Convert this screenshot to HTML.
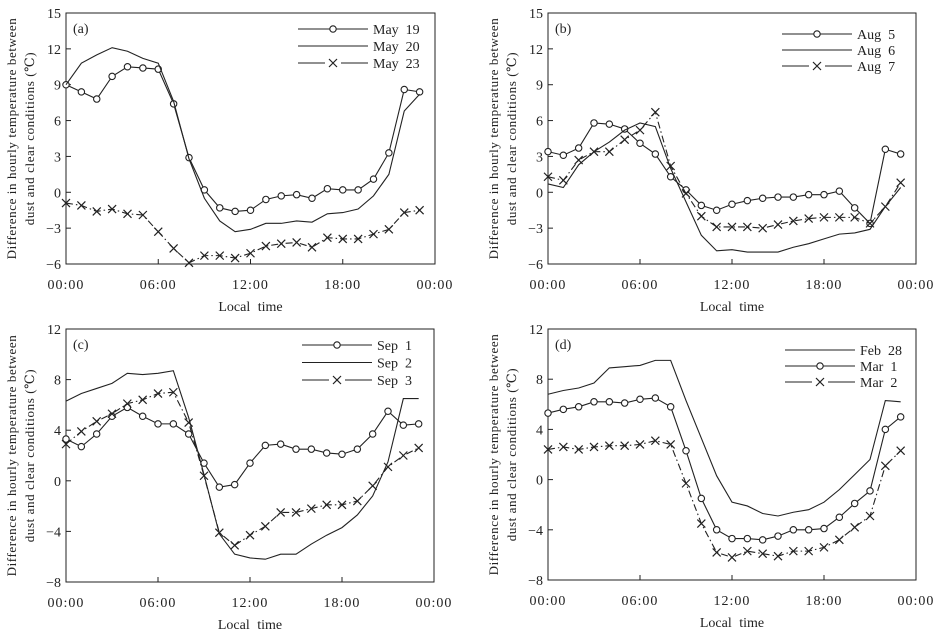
<!DOCTYPE html>
<html><head><meta charset="utf-8"><style>
body{margin:0;background:#fff;}
svg{display:block;font-family:"Liberation Serif","DejaVu Serif",serif;}
text{font-family:"Liberation Serif","DejaVu Serif",serif;}
</style></head><body>
<svg id="c" width="934" height="632" viewBox="0 0 934 632" font-family="Liberation Serif, serif"></svg>
<script>
const hours=[0,1,2,3,4,5,6,7,8,9,10,11,12,13,14,15,16,17,18,19,20,21,22,23];
const xTickLabels=["00:00","06:00","12:00","18:00","00:00"];
const ticksAB=[-6,-3,0,3,6,9,12,15];
const ticksCD=[-8,-4,0,4,8,12];
const namesA=["May  19","May  20","May  23"];
const may19=[9.0,8.4,7.8,9.7,10.5,10.4,10.3,7.4,2.9,0.2,-1.3,-1.6,-1.5,-0.6,-0.3,-0.2,-0.5,0.3,0.2,0.2,1.1,3.3,8.6,8.4];
const may20=[9.0,10.8,11.5,12.1,11.8,11.2,10.8,7.6,2.8,-0.5,-2.4,-3.3,-3.1,-2.6,-2.6,-2.4,-2.5,-1.8,-1.7,-1.4,-0.3,1.5,6.8,8.2];
const may23=[-0.9,-1.1,-1.6,-1.4,-1.8,-1.9,-3.3,-4.7,-5.9,-5.3,-5.3,-5.5,-5.1,-4.5,-4.3,-4.2,-4.6,-3.8,-3.9,-3.9,-3.5,-3.1,-1.7,-1.5];
const namesB=["Aug  5","Aug  6","Aug  7"];
const aug5=[3.4,3.1,3.7,5.8,5.7,5.3,4.1,3.2,1.3,0.2,-1.1,-1.5,-1.0,-0.7,-0.5,-0.4,-0.4,-0.2,-0.2,0.1,-1.3,-2.6,3.6,3.2];
const aug6=[0.7,0.4,2.3,3.4,4.2,5.2,5.8,5.5,2.0,-0.8,-3.6,-4.9,-4.8,-5.0,-5.0,-5.0,-4.6,-4.3,-3.9,-3.5,-3.4,-3.1,-1.2,0.4];
const aug7=[1.3,1.0,2.7,3.4,3.4,4.4,5.2,6.7,2.2,-0.1,-2.0,-2.9,-2.9,-2.9,-3.0,-2.7,-2.4,-2.2,-2.1,-2.1,-2.1,-2.6,-1.2,0.8];
const namesC=["Sep  1","Sep  2","Sep  3"];
const sep1=[3.3,2.7,3.7,5.1,5.8,5.1,4.5,4.5,3.7,1.4,-0.5,-0.3,1.4,2.8,2.9,2.5,2.5,2.2,2.1,2.5,3.7,5.5,4.4,4.5];
const sep2=[6.3,6.9,7.3,7.7,8.5,8.4,8.5,8.7,5.0,0.5,-4.2,-5.8,-6.1,-6.2,-5.8,-5.8,-5.0,-4.3,-3.7,-2.7,-1.2,1.5,6.5,6.5];
const sep3=[2.9,3.9,4.7,5.3,6.1,6.4,6.9,7.0,4.6,0.4,-4.1,-5.1,-4.3,-3.6,-2.5,-2.5,-2.2,-1.9,-1.9,-1.6,-0.4,1.1,2.0,2.6];
const namesD=["Feb  28","Mar  1","Mar  2"];
const feb28=[6.8,7.1,7.3,7.7,8.9,9.0,9.1,9.5,9.5,6.3,3.3,0.3,-1.8,-2.1,-2.7,-2.9,-2.6,-2.4,-1.8,-0.8,0.4,1.6,6.3,6.2];
const mar1=[5.3,5.6,5.8,6.2,6.2,6.1,6.4,6.5,5.8,2.3,-1.5,-4.0,-4.7,-4.7,-4.8,-4.5,-4.0,-4.0,-3.9,-3.0,-1.9,-0.9,4.0,5.0];
const mar2=[2.4,2.6,2.4,2.6,2.7,2.7,2.8,3.1,2.8,-0.3,-3.5,-5.8,-6.2,-5.7,-5.9,-6.1,-5.7,-5.7,-5.4,-4.8,-3.8,-2.9,1.1,2.3];

const NS="http://www.w3.org/2000/svg";
const svg=document.getElementById('c');
const FF='"Liberation Serif", "Noto Serif CJK SC", serif';
function mk(tag,attrs,parent){const e=document.createElementNS(NS,tag);for(const k in attrs)e.setAttribute(k,attrs[k]);if(tag==='text')e.setAttribute('font-family',FF);(parent||svg).appendChild(e);return e;}

function panel(cfg){
  const g=mk('g',{});
  
  
  const L=cfg.l,R=cfg.r,T=cfg.t,B=cfg.b;
  const ymin=cfg.ticks[0],ymax=cfg.ticks[cfg.ticks.length-1];
  const sx=h=>L+h/24*(R-L);
  const sy=v=>B-(v-ymin)/(ymax-ymin)*(B-T);
  const frame=mk('rect',{x:L,y:T,width:R-L,height:B-T,fill:'none',stroke:'#222','stroke-width':1},g);
  
  
  cfg.ticks.forEach(v=>{
    const y=sy(v);
    mk('line',{x1:L,x2:L+5,y1:y,y2:y,stroke:'#222'},g);
    const t=mk('text',{x:L-5,y:y+5,'text-anchor':'end','font-size':14,fill:'#222'},g);
    t.textContent=v<0?'\u2212'+Math.abs(v):String(v);
    
    
  });
  xTickLabels.forEach((lab,i)=>{
    const x=sx(i*6);
    mk('line',{x1:x,x2:x,y1:B,y2:B-5,stroke:'#222'},g);
    const t=mk('text',{x:x,y:B+25,'text-anchor':'middle','font-size':14,fill:'#222','letter-spacing':'1'},g);
    t.textContent=lab;
    
    
  });
  const xt=mk('text',{x:(L+R)/2,y:B+47,'text-anchor':'middle','font-size':14,fill:'#222','word-spacing':'4'},g);
  xt.textContent='Local time';
  
  
  const cy=(T+B)/2;
  const yt=mk('text',{x:0,y:0,'text-anchor':'middle','font-size':13,'letter-spacing':'0.6',fill:'#222',transform:`translate(${L-50},${cy}) rotate(-90)`},g);
  yt.textContent='Difference in hourly temperature between';
  
  
  const yt2=mk('text',{x:0,y:0,'text-anchor':'middle','font-size':13,'letter-spacing':'0.6',fill:'#222',transform:`translate(${L-32},${cy}) rotate(-90)`},g);
  yt2.textContent='dust and clear conditions (\u2103)';
  
  
  const pl=mk('text',{x:L+7,y:T+20,'font-size':14,fill:'#222'},g);
  pl.textContent='('+cfg.id+')';
  
  
  cfg.series.forEach((s,si)=>{
    const pts=hours.map(h=>[sx(h),sy(s.data[h])]);
    const line=mk('polyline',{points:pts.map(p=>p.join(',')).join(' '),fill:'none',stroke:'#222','stroke-width':1.1,'stroke-dasharray':s.type==='x'?'7 3 1.5 3':'none'},g);
    
    
    pts.forEach(p=>marker(g,s.type,p[0],p[1]));
    const ly=cfg.leg[1]+si*cfg.legGap;
    const ll=mk('line',{x1:cfg.leg[0],x2:cfg.leg[0]+70,y1:ly,y2:ly,stroke:'#222','stroke-width':1.1},g);
    
    
    marker(g,s.type,cfg.leg[0]+35,ly,true);
    const lt=mk('text',{x:cfg.leg[0]+75,y:ly+5,'font-size':14,fill:'#222',style:'white-space:pre'},g);
    lt.textContent=s.name;
    
    
  });
}
function marker(g,type,x,y,leg){
  if(type==='o'){
    const c=mk('circle',{cx:x,cy:y,r:3.2,fill:'#fff',stroke:'#222','stroke-width':1.1},g);
    
    
  }else if(type==='x'){
    const d=4,p=mk('path',{d:`M${x-d},${y-d}L${x+d},${y+d}M${x-d},${y+d}L${x+d},${y-d}`,stroke:'#222','stroke-width':1.2},g);
    if(leg){mk('rect',{x:x-8,y:y-2,width:16,height:4,fill:'#fff'},g);g.appendChild(p);}
    
    
  }
}
panel({id:'a',l:66,r:435,t:13,b:264,ticks:ticksAB,leg:[298,29],legGap:17,series:[{name:namesA[0],data:may19,type:'o'},{name:namesA[1],data:may20,type:'-'},{name:namesA[2],data:may23,type:'x'}]});
panel({id:'b',l:548,r:916,t:13,b:264,ticks:ticksAB,leg:[782,34],legGap:16,series:[{name:namesB[0],data:aug5,type:'o'},{name:namesB[1],data:aug6,type:'-'},{name:namesB[2],data:aug7,type:'x'}]});
panel({id:'c',l:66,r:434,t:329,b:582,ticks:ticksCD,leg:[302,345],legGap:17.5,series:[{name:namesC[0],data:sep1,type:'o'},{name:namesC[1],data:sep2,type:'-'},{name:namesC[2],data:sep3,type:'x'}]});
panel({id:'d',l:548,r:916,t:329,b:580,ticks:ticksCD,leg:[785,350],legGap:16,series:[{name:namesD[0],data:feb28,type:'-'},{name:namesD[1],data:mar1,type:'o'},{name:namesD[2],data:mar2,type:'x'}]});
</script>
</body></html>
